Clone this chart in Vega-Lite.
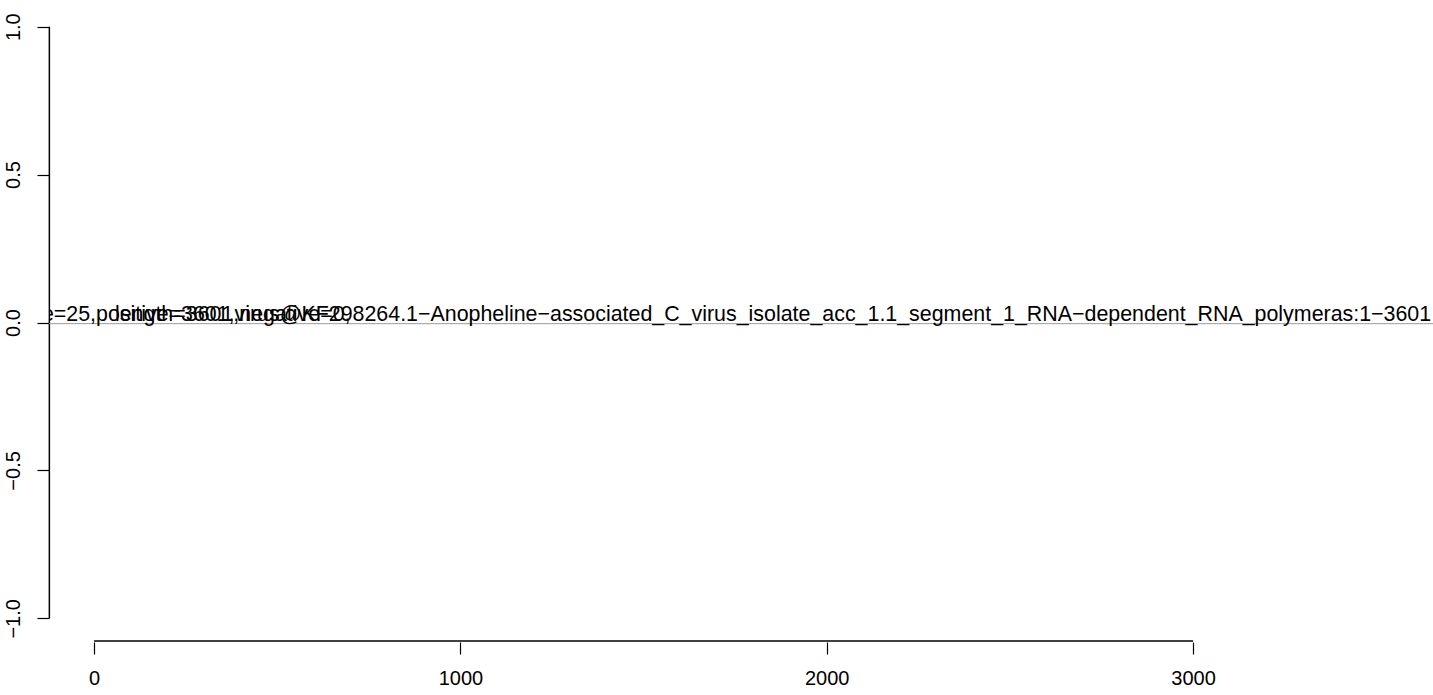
{
  "$schema": "https://vega.github.io/schema/vega-lite/v6.json",
  "autosize": {"type": "none"},
  "padding": {"left": 49, "top": 3, "right": 0, "bottom": 53},
  "width": 1384,
  "height": 639,
  "background": "white",
  "config": {"view": {"stroke": null}, "font": "Liberation Sans"},
  "datasets": {
    "labels": [
      {"pos": 3650, "val": 0, "label": "coverage=25,positive=3601,virus@KF298264.1−Anopheline−associated_C_virus_isolate_acc_1.1_segment_1_RNA−dependent_RNA_polymeras:1−3601"},
      {"pos": 700, "val": 0, "label": "length=3601,negative=0,"}
    ],
    "frame": [{}]
  },
  "layer": [
    {
      "data": {"name": "frame"},
      "mark": {"type": "rule", "color": "#000000", "strokeWidth": 1.5},
      "encoding": {
        "x": {"datum": -122, "type": "quantitative", "scale": {"domain": [-123, 3655], "nice": false, "zero": false},
          "axis": {"values": [0, 1000, 2000, 3000], "format": "d", "domain": false, "grid": false, "tickSize": 12, "tickColor": "#000", "tickWidth": 1.2, "labelFontSize": 20, "labelColor": "#000", "labelPadding": 14, "labelFont": "Liberation Sans", "title": null}},
        "y": {"datum": -1, "type": "quantitative", "scale": {"domain": [-1.08, 1.08], "nice": false, "zero": false},
          "axis": {"values": [-1, -0.5, 0, 0.5, 1], "format": ".1f", "domain": false, "grid": false, "tickSize": 12, "tickColor": "#000", "tickWidth": 1.2, "labelFontSize": 20, "labelColor": "#000", "labelPadding": 14, "labelAngle": -90, "labelAlign": "center", "labelBaseline": "bottom", "labelFont": "Liberation Sans", "title": null}},
        "y2": {"datum": 1}
      }
    },
    {
      "data": {"name": "frame"},
      "mark": {"type": "rule", "color": "#000000", "strokeWidth": 1.5},
      "encoding": {
        "x": {"datum": 0, "type": "quantitative"},
        "x2": {"datum": 3000},
        "y": {"datum": -1.077, "type": "quantitative"}
      }
    },
    {
      "data": {"name": "frame"},
      "mark": {"type": "rule", "color": "#9a9a9a", "strokeWidth": 1, "clip": true},
      "encoding": {
        "x": {"datum": -123, "type": "quantitative"},
        "x2": {"datum": 3655},
        "y": {"datum": -0.004, "type": "quantitative"}
      }
    },
    {
      "data": {"name": "labels"},
      "mark": {"type": "text", "align": "right", "baseline": "alphabetic", "dy": -2, "fontSize": 21.4, "font": "Liberation Sans", "color": "#000", "clip": true},
      "encoding": {
        "x": {"field": "pos", "type": "quantitative"},
        "y": {"field": "val", "type": "quantitative"},
        "text": {"field": "label"}
      }
    }
  ]
}
